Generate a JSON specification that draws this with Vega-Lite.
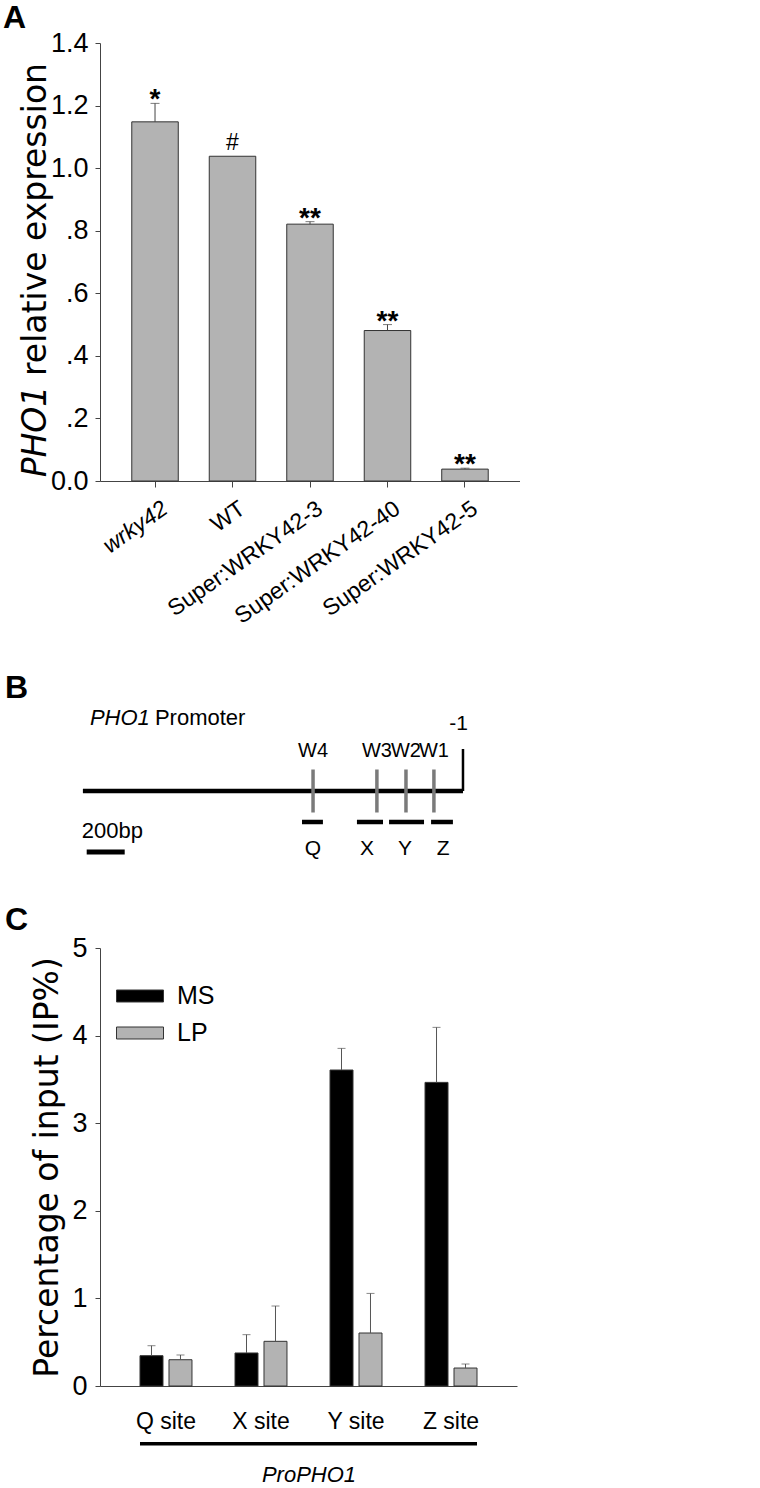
{
  "$schema": "https://vega.github.io/schema/vega-lite/v6.json",
  "background": "white",
  "padding": {"left": 3, "top": 2, "right": 0, "bottom": 0},
  "spacing": 43,
  "resolve": {"legend": {"color": "independent"}},
  "config": {
    "view": {"stroke": null},
    "font": "Liberation Sans",
    "axis": {"domainColor": "#444", "tickColor": "#444", "labelColor": "black", "titleColor": "black", "grid": false, "titleFontWeight": "normal"}
  },
  "vconcat": [
    {
      "width": 420,
      "height": 438,
      "title": {"text": "A", "anchor": "start", "frame": "group", "dx": -97, "fontSize": 32, "fontWeight": "bold", "color": "black", "offset": -6},
      "data": {"values": [
        {"line": "wrky42", "expr": 1.148, "upper": 1.207, "sig": "*"},
        {"line": "WT", "expr": 1.038, "upper": 1.038, "sig": "#"},
        {"line": "Super:WRKY42-3", "expr": 0.821, "upper": 0.829, "sig": "**"},
        {"line": "Super:WRKY42-40", "expr": 0.481, "upper": 0.5, "sig": "**"},
        {"line": "Super:WRKY42-5", "expr": 0.038, "upper": 0.041, "sig": "**"}
      ]},
      "resolve": {"axis": {"y": "independent"}},
      "encoding": {
        "x": {"field": "line", "type": "nominal", "sort": null,
          "scale": {"paddingInner": 0.4, "paddingOuter": 0.41},
          "axis": {"title": null, "labelAngle": -35, "labelAlign": "right", "labelBaseline": "top",
            "labelFontSize": 23, "labelOffset": 4, "labelLimit": 0,
            "labelFontStyle": {"condition": {"test": "datum.value === 'wrky42'", "value": "italic"}, "value": "normal"},
            "tickSize": 6, "labelPadding": 10}}
      },
      "layer": [
        {
          "mark": {"type": "bar", "fill": "#b3b3b3", "stroke": "#333", "strokeWidth": 1},
          "encoding": {
            "y": {"field": "expr", "type": "quantitative", "scale": {"domain": [0, 1.4], "nice": false},
              "axis": {"values": [0, 0.2, 0.4, 0.6, 0.8, 1.0, 1.2, 1.4],
                "labelExpr": "datum.value > 0 && datum.value < 1 ? replace(format(datum.value, '.1f'), '0.', '.') : format(datum.value, '.1f')",
                "labelFontSize": 27, "tickSize": 5, "labelPadding": 7,
                "title": "relative expression", "titleFont": "DejaVu Sans", "titleFontSize": 33,
                "titleAngle": -90, "titleAlign": "center", "titleBaseline": "alphabetic", "titleX": -55, "titleY": 176}}
          }
        },
        {
          "mark": {"type": "rule", "color": "#444", "strokeWidth": 1},
          "encoding": {
            "y": {"field": "expr", "type": "quantitative",
              "axis": {"orient": "left", "labels": false, "ticks": false, "domain": false,
                "title": "PHO1", "titleFont": "DejaVu Sans", "titleFontStyle": "italic", "titleFontSize": 33,
                "titleAngle": -90, "titleAlign": "center", "titleBaseline": "alphabetic", "titleX": -55, "titleY": 388}},
            "y2": {"field": "upper"}
          }
        },
        {
          "transform": [{"filter": "datum.upper > datum.expr"}],
          "mark": {"type": "tick", "color": "#444", "size": 9, "thickness": 1, "orient": "horizontal"},
          "encoding": {
            "y": {"field": "upper", "type": "quantitative", "axis": null}
          }
        },
        {
          "transform": [{"filter": "datum.sig !== '#'"}],
          "mark": {"type": "text", "fontWeight": "bold", "fontSize": 28, "baseline": "alphabetic", "dy": 5, "color": "black"},
          "encoding": {
            "y": {"field": "upper", "type": "quantitative", "axis": null},
            "text": {"field": "sig"}
          }
        },
        {
          "transform": [{"filter": "datum.sig === '#'"}],
          "mark": {"type": "text", "fontSize": 23, "baseline": "alphabetic", "dy": -6, "color": "black"},
          "encoding": {
            "y": {"field": "upper", "type": "quantitative", "axis": null},
            "text": {"field": "sig"}
          }
        }
      ]
    },
    {
      "width": 420,
      "height": 160,
      "title": {"text": "B", "anchor": "start", "frame": "group", "dx": -95, "fontSize": 32, "fontWeight": "bold", "color": "black", "offset": -4},
      "layer": [
        {
          "data": {"values": [{"from": -2000, "to": 0}]},
          "mark": {"type": "rule", "color": "black", "strokeWidth": 4.5},
          "encoding": {
            "x": {"field": "from", "type": "quantitative", "scale": {"domain": [-1910, 300], "nice": false, "zero": false}, "axis": null},
            "x2": {"field": "to"},
            "y": {"datum": 0, "type": "quantitative", "scale": {"domain": [-7, 9], "nice": false}, "axis": null}
          }
        },
        {
          "data": {"values": [{"tss": 0, "label": "-1"}]},
          "layer": [
            {
              "mark": {"type": "rule", "color": "black", "strokeWidth": 2.5},
              "encoding": {
                "x": {"field": "tss", "type": "quantitative"},
                "y": {"datum": 0, "type": "quantitative"},
                "y2": {"datum": 4.2}
              }
            },
            {
              "mark": {"type": "text", "fontSize": 21, "align": "right", "baseline": "middle", "dx": 5, "color": "black"},
              "encoding": {
                "x": {"field": "tss", "type": "quantitative"},
                "y": {"datum": 6.7, "type": "quantitative"},
                "text": {"field": "label"}
              }
            }
          ]
        },
        {
          "data": {"values": [{"from": -2000, "gene": "PHO1", "word": "Promoter"}]},
          "layer": [
            {
              "mark": {"type": "text", "fontStyle": "italic", "fontSize": 22, "align": "left", "baseline": "middle", "dx": 7, "color": "black"},
              "encoding": {
                "x": {"field": "from", "type": "quantitative"},
                "y": {"datum": 7.3, "type": "quantitative"},
                "text": {"field": "gene"}
              }
            },
            {
              "mark": {"type": "text", "fontSize": 22, "align": "left", "baseline": "middle", "dx": 72, "color": "black"},
              "encoding": {
                "x": {"field": "from", "type": "quantitative"},
                "y": {"datum": 7.3, "type": "quantitative"},
                "text": {"field": "word"}
              }
            }
          ]
        },
        {
          "data": {"values": [
            {"site": "W4", "pos": -789},
            {"site": "W3", "pos": -453},
            {"site": "W2", "pos": -300},
            {"site": "W1", "pos": -153}
          ]},
          "layer": [
            {
              "mark": {"type": "rule", "color": "#7a7a7a", "strokeWidth": 3.5},
              "encoding": {
                "x": {"field": "pos", "type": "quantitative"},
                "y": {"datum": -2.15, "type": "quantitative"},
                "y2": {"datum": 2.15}
              }
            },
            {
              "mark": {"type": "text", "fontSize": 20, "baseline": "middle", "color": "black"},
              "encoding": {
                "x": {"field": "pos", "type": "quantitative"},
                "y": {"datum": 4.0, "type": "quantitative"},
                "text": {"field": "site"}
              }
            }
          ]
        },
        {
          "data": {"values": [
            {"frag": "Q", "start": -847, "end": -737, "mid": -789},
            {"frag": "X", "start": -558, "end": -421, "mid": -505},
            {"frag": "Y", "start": -389, "end": -205, "mid": -305},
            {"frag": "Z", "start": -168, "end": -53, "mid": -105}
          ]},
          "layer": [
            {
              "mark": {"type": "rule", "color": "black", "strokeWidth": 4.5},
              "encoding": {
                "x": {"field": "start", "type": "quantitative"},
                "x2": {"field": "end"},
                "y": {"datum": -3.1, "type": "quantitative"}
              }
            },
            {
              "mark": {"type": "text", "fontSize": 21, "baseline": "middle", "color": "black"},
              "encoding": {
                "x": {"field": "mid", "type": "quantitative"},
                "y": {"datum": -5.8, "type": "quantitative"},
                "text": {"field": "frag"}
              }
            }
          ]
        },
        {
          "data": {"values": [{"from": -1980, "to": -1780, "label": "200bp"}]},
          "layer": [
            {
              "mark": {"type": "rule", "color": "black", "strokeWidth": 5},
              "encoding": {
                "x": {"field": "from", "type": "quantitative"},
                "x2": {"field": "to"},
                "y": {"datum": -6.1, "type": "quantitative"}
              }
            },
            {
              "mark": {"type": "text", "fontSize": 22, "align": "left", "baseline": "middle", "dx": -5, "color": "black"},
              "encoding": {
                "x": {"field": "from", "type": "quantitative"},
                "y": {"datum": -4.0, "type": "quantitative"},
                "text": {"field": "label"}
              }
            }
          ]
        }
      ]
    },
    {
      "width": 417,
      "height": 438,
      "title": {"text": "C", "anchor": "start", "frame": "group", "dx": -95, "fontSize": 32, "fontWeight": "bold", "color": "black", "offset": -3},
      "layer": [
        {
          "data": {"values": [
            {"site": "Q site", "cond": "MS", "ip": 0.346, "upper": 0.46},
            {"site": "Q site", "cond": "LP", "ip": 0.30, "upper": 0.354},
            {"site": "X site", "cond": "MS", "ip": 0.377, "upper": 0.586},
            {"site": "X site", "cond": "LP", "ip": 0.51, "upper": 0.913},
            {"site": "Y site", "cond": "MS", "ip": 3.607, "upper": 3.854},
            {"site": "Y site", "cond": "LP", "ip": 0.605, "upper": 1.057},
            {"site": "Z site", "cond": "MS", "ip": 3.466, "upper": 4.094},
            {"site": "Z site", "cond": "LP", "ip": 0.205, "upper": 0.251}
          ]},
          "layer": [
            {
              "mark": {"type": "bar", "stroke": "#333", "strokeWidth": 1},
              "encoding": {
                "x": {"field": "site", "type": "nominal",
                  "scale": {"domain": ["Q site", "X site", "Y site", "Z site"], "paddingInner": 0.453, "paddingOuter": 0.421},
                  "axis": {"ticks": false, "labelAngle": 0, "labelFontSize": 23, "labelPadding": 24,
                    "title": "ProPHO1", "titleFontStyle": "italic", "titleFontSize": 22, "titlePadding": 31}},
                "xOffset": {"field": "cond", "type": "nominal", "scale": {"domain": ["MS", "LP"], "paddingInner": 0.207}},
                "y": {"field": "ip", "type": "quantitative", "scale": {"domain": [0, 5], "nice": false},
                  "axis": {"values": [0, 1, 2, 3, 4, 5], "format": "d", "labelFontSize": 27, "tickSize": 5, "labelPadding": 8,
                    "title": "Percentage of input (IP%)", "titleFont": "DejaVu Sans", "titleFontSize": 33,
                    "titleAngle": -90, "titleAlign": "center", "titleBaseline": "alphabetic", "titleX": -43}},
                "color": {"field": "cond", "type": "nominal",
                  "scale": {"domain": ["MS", "LP"], "range": ["#000000", "#b3b3b3"]},
                  "legend": {"orient": "none", "legendX": 16, "legendY": 24, "title": null,
                    "symbolType": "M-1,-0.255L1,-0.255L1,0.255L-1,0.255Z", "symbolSize": 2209,
                    "symbolStrokeColor": "#333", "symbolStrokeWidth": 1,
                    "labelFontSize": 25, "labelColor": "black",
                    "rowPadding": -10, "labelOffset": 13}}
              }
            },
            {
              "mark": {"type": "rule", "color": "#555", "strokeWidth": 1},
              "encoding": {
                "x": {"field": "site", "type": "nominal"},
                "xOffset": {"field": "cond", "type": "nominal"},
                "y": {"field": "ip", "type": "quantitative"},
                "y2": {"field": "upper"}
              }
            },
            {
              "mark": {"type": "tick", "color": "#555", "size": 8, "thickness": 1, "orient": "horizontal"},
              "encoding": {
                "x": {"field": "site", "type": "nominal"},
                "xOffset": {"field": "cond", "type": "nominal"},
                "y": {"field": "upper", "type": "quantitative"}
              }
            }
          ]
        },
        {
          "data": {"values": [{"from": "Q site", "to": "Z site"}]},
          "mark": {"type": "rule", "color": "black", "strokeWidth": 3.5},
          "encoding": {
            "x": {"field": "from", "type": "nominal", "bandPosition": 0},
            "x2": {"field": "to", "bandPosition": 1},
            "y": {"datum": -0.66, "type": "quantitative"}
          }
        }
      ]
    }
  ]
}
